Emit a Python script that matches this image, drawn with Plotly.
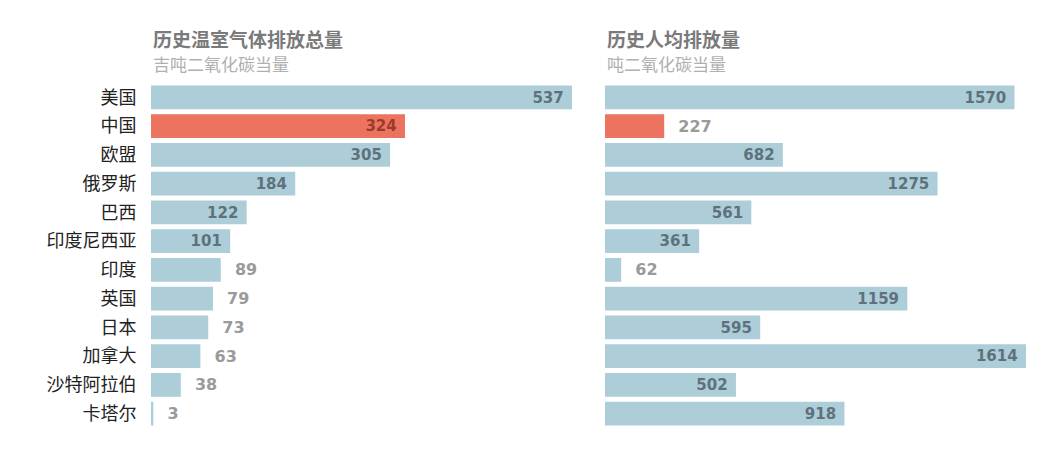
import plotly.graph_objects as go
from plotly.subplots import make_subplots

# Data
countries = ['美国', '中国', '欧盟', '俄罗斯', '巴西', '印度尼西亚', '印度',
             '英国', '日本', '加拿大', '沙特阿拉伯', '卡塔尔']
total_emissions = [537, 324, 305, 184, 122, 101, 89, 79, 73, 63, 38, 3]
per_capita = [1570, 227, 682, 1275, 561, 361, 62, 1159, 595, 1614, 502, 918]
highlight = '中国'

titles = ['历史温室气体排放总量', '历史人均排放量']
subtitles = ['吉吨二氧化碳当量', '吨二氧化碳当量']

BLUE = '#adcdd8'
RED = '#ec735f'
IN_BLUE = '#5e727c'
IN_RED = '#9a3b2c'
OUT_GREY = '#9a9a9a'

W, H = 1050, 450
OFF = 8  # page body margin
domains = [((151 - OFF) / W, (572 - OFF) / W), ((605 - OFF) / W, (1026 - OFF) / W)]
y_dom = (1 - (428 - OFF) / H, 1 - (83 - OFF) / H)

fig = make_subplots(rows=1, cols=2, horizontal_spacing=0.02)


def make_trace(values):
    """Build one bar trace with labels inside or outside the bar."""
    top = max(values)
    colors, text, pos, tcolors = [], [], [], []
    for c, v in zip(countries, values):
        colors.append(RED if c == highlight else BLUE)
        if v / top > 0.18:
            pos.append('inside')
            text.append(f'{v} ')
            tcolors.append(IN_RED if c == highlight else IN_BLUE)
        else:
            pos.append('outside')
            text.append(f'  {v}')
            tcolors.append(OUT_GREY)
    return go.Bar(
        x=values, y=countries, orientation='h',
        marker=dict(color=colors, line=dict(width=0)),
        text=text, textposition=pos, insidetextanchor='end',
        textfont=dict(family='DejaVu Sans', size=16, color=tcolors, weight='bold'),
        cliponaxis=False, width=0.83, showlegend=False,
    )


fig.add_trace(make_trace(total_emissions), row=1, col=1)
fig.add_trace(make_trace(per_capita), row=1, col=2)

# Axes
fig.update_xaxes(visible=False, showgrid=False, zeroline=False)
fig.update_xaxes(domain=domains[0], range=[0, max(total_emissions)], row=1, col=1)
fig.update_xaxes(domain=domains[1], range=[0, max(per_capita)], row=1, col=2)
fig.update_yaxes(domain=y_dom, autorange='reversed', showgrid=False,
                 zeroline=False, showline=False)
fig.update_yaxes(ticks='outside', ticklen=10, tickcolor='white',
                 tickfont=dict(family='Noto Sans CJK SC', size=18, color='#222'),
                 row=1, col=1)
fig.update_yaxes(showticklabels=False, row=1, col=2)

# Titles
for d, t, s in zip(domains, titles, subtitles):
    fig.add_annotation(x=d[0], y=1 - (38.5 - OFF) / H, xref='paper', yref='paper',
                       xanchor='left', yanchor='middle', showarrow=False,
                       text=f'<b>{t}</b>',
                       font=dict(family='Noto Sans CJK SC', size=19, color='#7a7a7a'))
    fig.add_annotation(x=d[0], y=1 - (63 - OFF) / H, xref='paper', yref='paper',
                       xanchor='left', yanchor='middle', showarrow=False,
                       text=s,
                       font=dict(family='Noto Sans CJK SC', size=17, color='#b0b0b0'))

fig.update_layout(
    width=W, height=H,
    margin=dict(l=0, r=0, t=0, b=0),
    plot_bgcolor='white', paper_bgcolor='white',
    bargap=0.17,
)

fig.write_html("out.html")
